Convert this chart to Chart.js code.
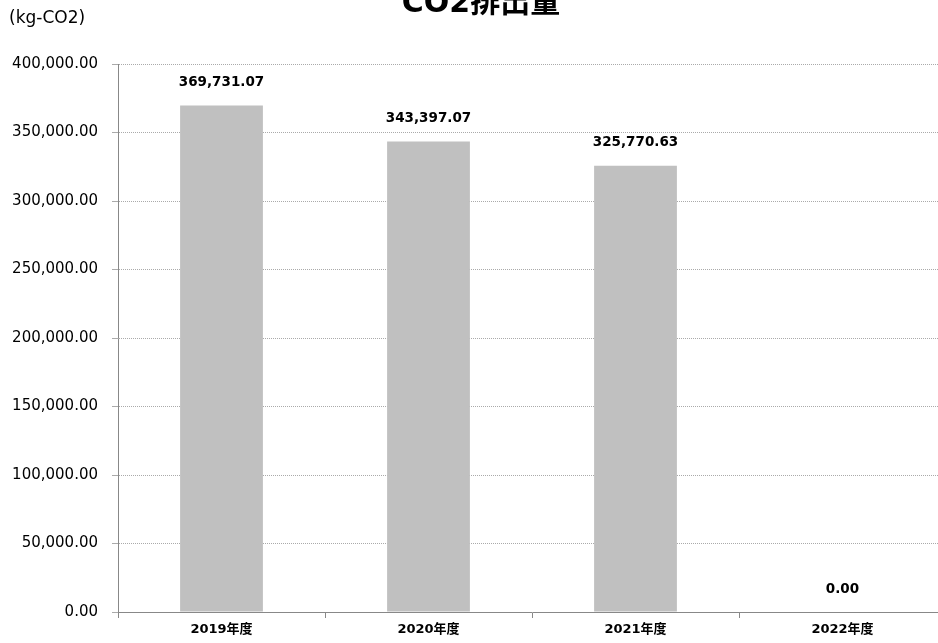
<!DOCTYPE html>
<html>
<head>
<meta charset="utf-8">
<script src="https://cdn.jsdelivr.net/npm/chart.js@4/dist/chart.umd.min.js"></script>
<style>
  html, body { margin: 0; padding: 0; background: #fff; overflow: hidden; }
  #wrap { position: relative; width: 946px; height: 643px; }
</style>
</head>
<body>
<div id="wrap"><canvas id="co2Chart"></canvas></div>
<script>
// データ
const categories = ['2019年度', '2020年度', '2021年度', '2022年度'];
const co2Values = [369731.07, 343397.07, 325770.63, 0];
const yTicks = [0, 50000, 100000, 150000, 200000, 250000, 300000, 350000, 400000];

const fmt = v => v.toLocaleString('en-US', { minimumFractionDigits: 2, maximumFractionDigits: 2 });

// タイトル・単位・データラベル
const textPlugin = {
  id: 'textPlugin',
  afterDatasetsDraw(chart) {
    const ctx = chart.ctx;
    ctx.save();
    ctx.fillStyle = '#000';
    ctx.textAlign = 'center';
    ctx.textBaseline = 'middle';
    ctx.font = 'bold 13.5px "DejaVu Sans"';
    chart.getDatasetMeta(0).data.forEach((bar, i) => {
      ctx.fillText(fmt(co2Values[i]), bar.x, bar.y - 23);
    });
    ctx.font = 'bold 30px "DejaVu Sans", "Noto Sans CJK JP"';
    ctx.textBaseline = 'alphabetic';
    ctx.fillText('CO2排出量', 481, 12);
    ctx.textAlign = 'left';
    ctx.textBaseline = 'middle';
    ctx.font = '17px "DejaVu Sans"';
    ctx.fillText('(kg-CO2)', 9, 19);
    ctx.restore();
  }
};

new Chart(document.getElementById('co2Chart'), {
  type: 'bar',
  data: {
    labels: categories,
    datasets: [{
      data: co2Values,
      backgroundColor: '#c0c0c0',
      borderWidth: 0,
      barPercentage: 0.4,
      categoryPercentage: 1.0
    }]
  },
  options: {
    responsive: true,
    maintainAspectRatio: false,
    animation: false,
    layout: { padding: { top: 64, right: 0, left: 0, bottom: 0 } },
    plugins: {
      legend: { display: false },
      tooltip: { enabled: false }
    },
    scales: {
      x: {
        afterFit: s => { s.height = 31; },
        grid: { display: true, drawOnChartArea: false, offset: true, tickLength: 6, color: '#888' },
        border: { color: '#888', width: 1 },
        ticks: {
          color: '#000',
          padding: 4,
          font: { family: '"DejaVu Sans", "Noto Sans CJK JP"', size: 13, weight: 'bold' }
        }
      },
      y: {
        min: 0,
        max: 400000,
        afterFit: s => { s.width = 118; },
        afterBuildTicks: s => { s.ticks = yTicks.map(v => ({ value: v })); },
        grid: { color: '#aaa', tickLength: 6 },
        border: { color: '#888', width: 1, dash: [1, 1] },
        ticks: {
          color: '#000',
          padding: 14,
          font: { family: '"DejaVu Sans"', size: 15 },
          callback: v => fmt(v)
        }
      }
    }
  },
  plugins: [textPlugin]
});
</script>
</body>
</html>
